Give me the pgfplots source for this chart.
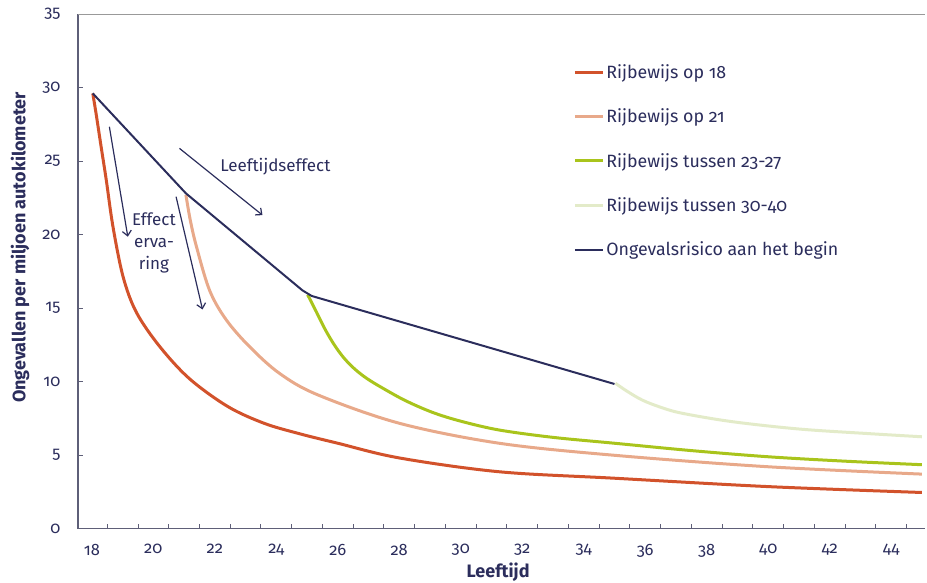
\documentclass[border=0pt]{standalone}
\usepackage{fontspec}
\setmainfont{Fira Sans}[RawFeature=+onum]
\usepackage{pgfplots}
\pgfplotsset{compat=1.18}
\usetikzlibrary{arrows.meta}
\definecolor{navy}{HTML}{2B2D5C}
\definecolor{axisgray}{HTML}{5E5F78}
\definecolor{rood}{HTML}{D2522B}
\definecolor{zalm}{HTML}{E8A98A}
\definecolor{groen}{HTML}{A9C41C}
\definecolor{lichtgroen}{HTML}{E3EBC9}

\begin{document}
\begin{tikzpicture}[x=1pt,y=1pt]
\useasboundingbox (0,0) rectangle (927,582);
\begin{axis}[
  at={(78pt,53.5pt)}, anchor=south west,
  scale only axis, width=847pt, height=514.5pt,
  xmin=17.55, xmax=45.1, ymin=0, ymax=35,
  axis x line*=bottom, axis y line*=left,
  axis line style={axisgray, line width=1.8pt},
  tick align=inside,
  tick style={axisgray, line width=0.9pt},
  major tick length=0pt,
  minor tick length=5pt,
  xtick={18,20,...,44},
  minor xtick={18.5,19.5,...,44.5},
  ytick={0,5,...,35},
  minor ytick={0,5,...,35},
  /pgf/number format/assume math mode=true,
  xticklabel={\pgfmathprintnumber{\tick}},
  yticklabel={\pgfmathprintnumber{\tick}},
  ticklabel style={font=\fontsize{16.5}{19}\selectfont, text=navy},
  yticklabel style={xshift=-14pt},
  xticklabel style={yshift=-12pt},
  xlabel={\bfseries Leeftijd},
  ylabel={\bfseries Ongevallen per miljoen autokilometer},
  label style={font=\fontsize{18}{22}\selectfont, text=navy},
  xlabel style={at={(axis description cs:0.496,-0.0845)}, anchor=center},
  ylabel style={at={(axis description cs:-0.0685,0.546)}, anchor=center},
  legend style={at={(axis description cs:0.581,0.91)}, anchor=north west,
    draw=none, fill=none, font=\fontsize{17.8}{21}\selectfont, text=navy,
    row sep=25pt},
  legend cell align=left,
  legend image code/.code={\draw[#1] (0pt,0pt) -- (28pt,0pt);},
]
\addplot[rood, line width=3pt, smooth, tension=0.55] coordinates {
  (18.03,29.6) (18.14,28.2) (18.3,26.0) (18.47,23.7) (18.69,20.5)
  (19.02,17.1) (19.45,14.7) (20.2,12.4) (21.17,10.2) (22.42,8.3)
  (23.6,7.16) (24.75,6.45) (26,5.8) (28,4.8) (31.25,3.86) (35,3.42)
  (40,2.85) (45,2.45)
};
\addlegendentry{Rijbewijs op 18}
\addplot[zalm, line width=3pt, smooth, tension=0.55] coordinates {
  (21.06,22.7) (21.2,21.0) (21.4,19.2) (21.83,16.2) (22.37,14.2)
  (23.13,12.37) (24.1,10.56) (25.34,9.1) (28,7.16) (31.25,5.8)
  (35,4.98) (40,4.2) (45,3.7)
};
\addlegendentry{Rijbewijs op 21}
\addplot[groen, line width=3pt, smooth, tension=0.55] coordinates {
  (25.02,15.9) (25.3,14.75) (25.6,13.5) (25.9,12.45) (26.2,11.6)
  (26.55,10.85) (26.95,10.2) (27.46,9.55) (28.2,8.7) (29.08,7.9)
  (30,7.3) (31.25,6.7) (33,6.2) (35,5.8) (37.5,5.3) (40,4.88)
  (42.5,4.58) (45,4.34)
};
\addlegendentry{Rijbewijs tussen 23-27}
\addplot[lichtgroen, line width=3pt, smooth, tension=0.55] coordinates {
  (35.03,9.88) (35.4,9.35) (35.9,8.74) (36.5,8.25) (37.2,7.84)
  (38.82,7.27) (40.99,6.77) (43.15,6.47) (45,6.24)
};
\addlegendentry{Rijbewijs tussen 30-40}
\addplot[navy, line width=2pt] coordinates {
  (18.03,29.6) (21.06,22.8) (24.85,16.2) (25.15,15.82) (35.0,9.83)
};
\addlegendentry{Ongevalsrisico aan het begin}

\draw[gray!80, line width=1.5pt] (rel axis cs:0,1) -- (rel axis cs:1,1);

\draw[navy, line width=1.2pt, -{Straight Barb[length=5pt,width=9pt]}]
  (axis cs:18.57,27.33) -- (axis cs:19.17,19.85);
\draw[navy, line width=1.2pt, -{Straight Barb[length=5pt,width=9pt]}]
  (axis cs:20.74,22.57) -- (axis cs:21.6,14.9);
\draw[navy, line width=1.2pt, -{Straight Barb[length=5pt,width=9pt]}]
  (axis cs:20.85,25.86) -- (axis cs:23.55,21.32);
\node[font=\fontsize{17}{19}\selectfont, text=navy] at (axis cs:23.97,24.6) {Leeftijdseffect};
\node[font=\fontsize{17}{22}\selectfont, text=navy, align=center] at (axis cs:20.02,19.45) {Effect\\erva-\\ring};
\end{axis}
\end{tikzpicture}
\end{document}
